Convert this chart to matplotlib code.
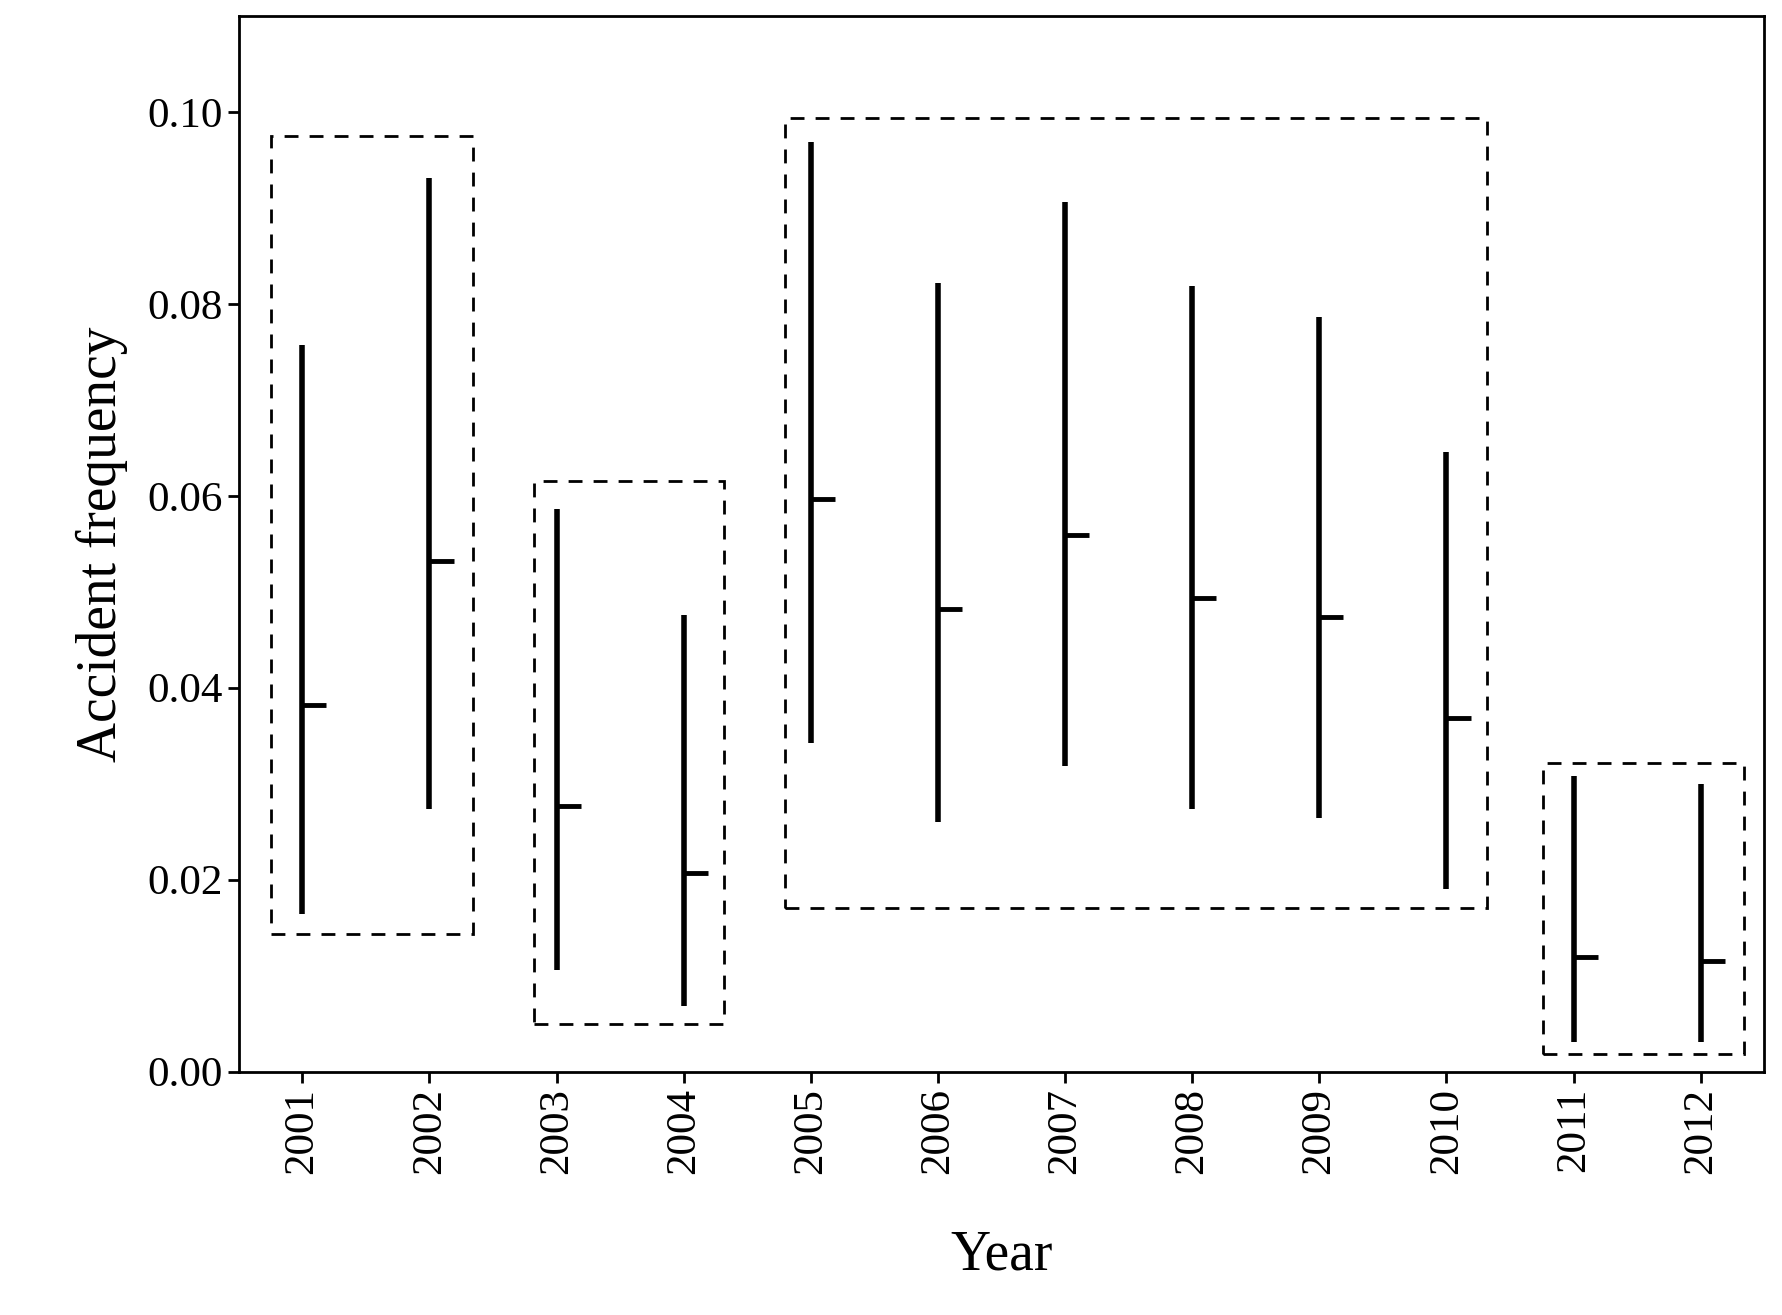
import matplotlib
matplotlib.use("Agg")
import matplotlib.pyplot as plt
from matplotlib.patches import Rectangle

years = ["2001","2002","2003","2004","2005","2006","2007","2008","2009","2010","2011","2012"]
upper = [0.0757,0.0931,0.0586,0.0476,0.0969,0.0822,0.0906,0.0818,0.0786,0.0646,0.0308,0.0300]
lower = [0.0164,0.0274,0.0106,0.0068,0.0342,0.0260,0.0319,0.0274,0.0264,0.0190,0.0031,0.0031]
mean  = [0.0382,0.0532,0.0277,0.0207,0.0597,0.0482,0.0559,0.0494,0.0474,0.0369,0.0119,0.0115]
# group boxes: (x_start, x_end, y_low, y_high)
groups_x0 = [-0.25, 1.82, 3.80, 9.76]
groups_x1 = [1.34, 3.32, 9.32, 11.34]
groups_y0 = [0.0143, 0.0050, 0.0171, 0.0018]
groups_y1 = [0.0975, 0.0615, 0.0993, 0.0322]

plt.rcParams['font.family'] = ['Liberation Serif', 'DejaVu Serif']
fig = plt.figure(figsize=(17.82, 13.15), dpi=100)
ax = fig.add_axes([0.134, 0.185, 0.856, 0.803])
x = list(range(len(years)))
ax.vlines(x, lower, upper, color='black', lw=4)
ax.hlines(mean, x, [xi + 0.19 for xi in x], color='black', lw=3.5)
for a, b, c, d in zip(groups_x0, groups_x1, groups_y0, groups_y1):
    ax.add_patch(Rectangle((a, c), b - a, d - c, fill=False, ls=(0, (5, 4)), lw=2, ec='black'))
ax.set_xlim(-0.5, 11.5)
ax.set_ylim(0, 0.11)
ax.set_xticks(x)
ax.set_xticklabels(years, rotation=90)
ax.set_yticks([0, 0.02, 0.04, 0.06, 0.08, 0.10])
ax.set_yticklabels([f"{v:.2f}" for v in [0, 0.02, 0.04, 0.06, 0.08, 0.10]])
ax.tick_params(labelsize=31, length=8, width=2)
for s in ax.spines.values():
    s.set_linewidth(2)
ax.set_xlabel("Year", fontsize=40, labelpad=40)
ax.set_ylabel("Accident frequency", fontsize=40, labelpad=14)
fig.savefig("out.png", dpi=100)
